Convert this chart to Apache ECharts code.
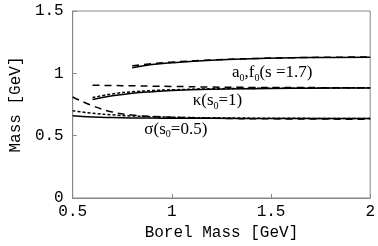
<!DOCTYPE html>
<html><head><meta charset="utf-8">
<script src="https://cdn.jsdelivr.net/npm/echarts@6/dist/echarts.min.js"></script>
<style>html,body{margin:0;padding:0;background:#fff}#c{width:378px;height:246px}</style>
</head><body><div id="c"></div>
<script>
// Borel mass values [GeV]
var xSigma = [0.5, 0.6, 0.7, 0.8, 0.9, 1.0, 1.2, 1.5, 2.0];
var sigmaSolid = [0.66, 0.65, 0.645, 0.642, 0.641, 0.640, 0.639, 0.638, 0.637];
var sigmaShort = [0.70, 0.68, 0.667, 0.658, 0.652, 0.648, 0.643, 0.640, 0.637];
var sigmaLong  = [0.81, 0.74, 0.69, 0.665, 0.655, 0.648, 0.640, 0.635, 0.632];

var xKappa = [0.6, 0.7, 0.8, 0.9, 1.0, 1.2, 1.4, 1.6, 1.8, 2.0];
var kappaSolid = [0.79, 0.82, 0.84, 0.853, 0.862, 0.872, 0.877, 0.880, 0.882, 0.883];
var kappaShort = [0.805, 0.835, 0.852, 0.862, 0.868, 0.876, 0.879, 0.881, 0.883, 0.884];
var kappaLong  = [0.905, 0.902, 0.90, 0.897, 0.895, 0.89, 0.887, 0.886, 0.885, 0.884];

var xA0 = [0.8, 0.9, 1.0, 1.2, 1.4, 1.6, 1.8, 2.0];
var a0Solid = [1.045, 1.07, 1.085, 1.105, 1.117, 1.124, 1.128, 1.13];
var a0Long  = [1.06, 1.078, 1.09, 1.107, 1.118, 1.125, 1.129, 1.131];

var xTicks = [0.5, 1, 1.5, 2];
var yTicks = [0, 0.5, 1, 1.5];

var labels = [
  {x: 1.506, y: 1.005, rich: [['a','a'],['s','0'],['a',','],['a','f'],['s','0'],['a','(s =1.7)']]},
  {x: 1.23, y: 0.78, rich: [['a','\u03ba(s'],['s','0'],['a','=1)']]},
  {x: 1.02, y: 0.553, rich: [['a','\u03c3(s'],['s','0'],['a','=0.5)']]}
];

function pairs(xs, ys){ return xs.map(function(x,i){ return [x, ys[i]]; }); }

var chart = echarts.init(document.getElementById('c'), null, {renderer:'canvas'});
var mono = 'Liberation Mono';
function ser(xs, ys, dash){
  return {type:'line', data: pairs(xs, ys), smooth: true, symbol:'none',
    lineStyle:{color:'#000', width: 1.5, type: dash}, z: 3, silent: true};
}
chart.setOption({
  animation:false,
  grid:{left:62, right:6, top:11, bottom:44, show:true, borderColor:'#888', borderWidth:1},
  xAxis:{type:'value', min:0.5, max:2, interval:0.5,
    name:'Borel Mass [GeV]', nameLocation:'middle', nameGap:27,
    nameTextStyle:{fontFamily:mono, fontSize:16, color:'#000'},
    axisLine:{show:true, lineStyle:{color:'#888'}},
    axisTick:{show:true, inside:true, length:4, lineStyle:{color:'#888'}},
    axisLabel:{fontFamily:mono, fontSize:16, color:'#000', margin:6,
      formatter:function(v){ return xTicks.indexOf(v)>=0 ? String(v) : ''; }},
    splitLine:{show:false}},
  yAxis:{type:'value', min:0, max:1.5, interval:0.5,
    name:'Mass [GeV]', nameLocation:'middle', nameGap:44,
    nameTextStyle:{fontFamily:mono, fontSize:16, color:'#000'},
    axisLine:{show:true, lineStyle:{color:'#888'}},
    axisTick:{show:true, inside:true, length:4, lineStyle:{color:'#888'}},
    axisLabel:{fontFamily:mono, fontSize:16, color:'#000', margin:9,
      formatter:function(v){ return yTicks.indexOf(v)>=0 ? String(v) : ''; }},
    splitLine:{show:false}},
  series:[
    ser(xSigma, sigmaSolid, 'solid'),
    ser(xSigma, sigmaShort, [3,2]),
    ser(xSigma, sigmaLong, [7,5]),
    ser(xKappa, kappaSolid, 'solid'),
    ser(xKappa, kappaShort, [3,2]),
    ser(xKappa, kappaLong, [7,5]),
    ser(xA0, a0Solid, 'solid'),
    ser(xA0, a0Long, [7,5])
  ]
});
var g = labels.map(function(l){
  var p = chart.convertToPixel({gridIndex:0}, [l.x, l.y]);
  var txt = l.rich.map(function(r){ return '{'+r[0]+'|'+r[1]+'}'; }).join('');
  return {type:'text', x:p[0], y:p[1], z:10,
    style:{text:txt, align:'center', verticalAlign:'middle', fill:'#000',
      rich:{a:{fontFamily:'Liberation Serif', fontSize:17, fill:'#000', verticalAlign:'bottom'},
            s:{fontFamily:'Liberation Serif', fontSize:10, fill:'#000', verticalAlign:'bottom', padding:[0,0,-2,0]}}}};
});
chart.setOption({graphic:g});
</script></body></html>
